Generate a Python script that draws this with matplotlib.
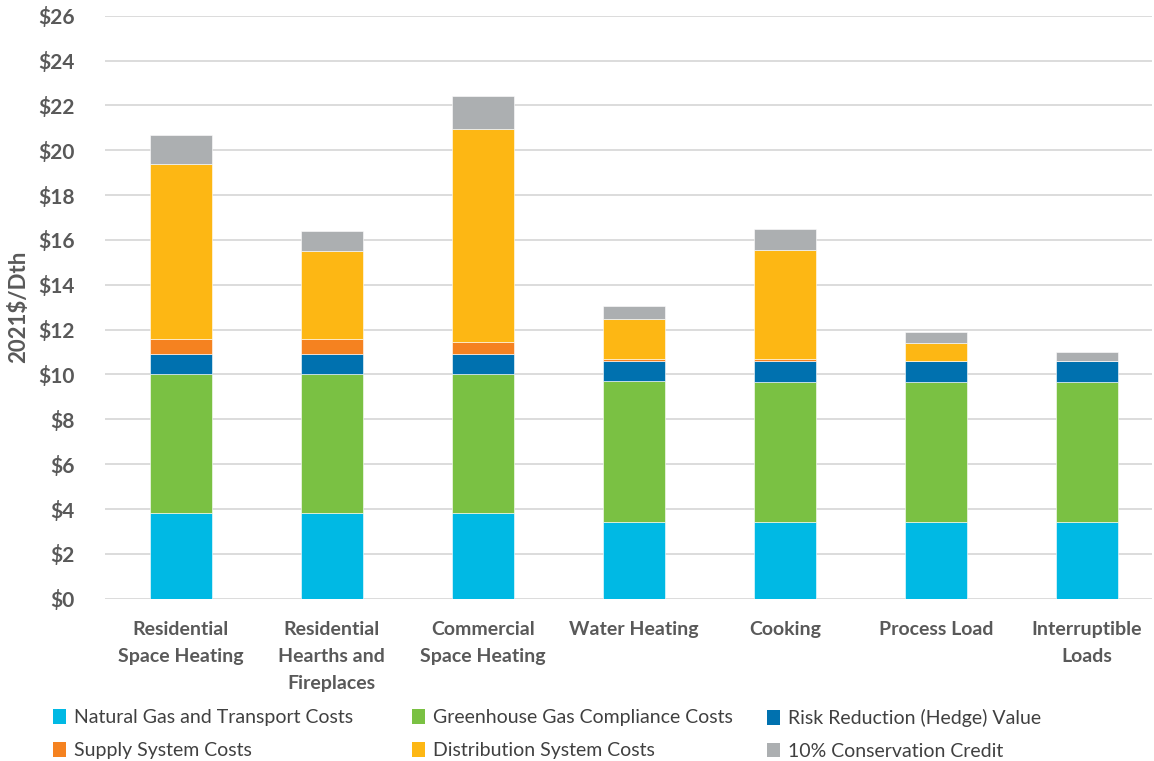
import matplotlib
matplotlib.use("Agg")
import matplotlib.pyplot as plt
from matplotlib.patches import Patch
import numpy as np

categories = ["Residential\nSpace Heating", "Residential\nHearths and\nFireplaces",
              "Commercial\nSpace Heating", "Water Heating", "Cooking",
              "Process Load", "Interruptible\nLoads"]
series_names = ["Natural Gas and Transport Costs", "Greenhouse Gas Compliance Costs",
                "Risk Reduction (Hedge) Value", "Supply System Costs",
                "Distribution System Costs", "10% Conservation Credit"]
natural_gas = [3.80, 3.80, 3.80, 3.44, 3.44, 3.44, 3.44]
ghg = [6.20, 6.20, 6.20, 6.26, 6.22, 6.22, 6.22]
risk = [0.93, 0.93, 0.93, 0.88, 0.92, 0.92, 0.92]
supply = [0.63, 0.63, 0.54, 0.12, 0.12, 0.03, 0.0]
distribution = [7.81, 3.93, 9.49, 1.76, 4.85, 0.81, 0.0]
conservation = [1.33, 0.90, 1.45, 0.59, 0.92, 0.48, 0.42]
yticks = list(range(0, 27, 2))

colors = ["#00B9E4", "#7AC143", "#0071AF", "#F58220", "#FDB714", "#ACAFB1"]
series = [natural_gas, ghg, risk, supply, distribution, conservation]

plt.rcParams['font.family'] = ['Lato', 'DejaVu Sans']
fig = plt.figure(figsize=(11.54, 7.61), dpi=100)
W, H = 1154, 761
left, right = 105 / W, 1152 / W
bottom, top = (H - 598.7) / H, (H - 15.7) / H
ax = fig.add_axes([left, bottom, right - left, top - bottom])

x = np.arange(len(categories))
base = np.zeros(len(categories))
for vals, c, name in zip(series, colors, series_names):
    v = np.array(vals)
    ax.bar(x, v, bottom=base, width=0.41, color=c, label=name,
           edgecolor="white", linewidth=0.4, zorder=3)
    base += v

ax.set_ylim(0, 26)
ax.set_xlim(-0.5, 6.43)
ax.set_yticks(yticks)
ax.set_yticklabels([f"${t}" for t in yticks], fontsize=15, fontweight="bold", color="#595959")
ax.set_xticks(x)
ax.set_xticklabels(categories, fontsize=14, fontweight="bold", color="#595959",
                   linespacing=1.7, va="top")
ax.tick_params(axis="both", length=0)
ax.tick_params(axis="x", pad=16)
ax.tick_params(axis="y", pad=22)
ax.grid(axis="y", color="#D9D9D9", linewidth=1.3, zorder=0)
for s in ax.spines.values():
    s.set_visible(False)
ax.set_ylabel("2021$/Dth", fontsize=16, fontweight="bold", color="#595959", labelpad=6)

handles = [Patch(facecolor=c) for c in colors]
col_x = [53, 412, 767]
for i, cx in enumerate(col_x):
    hs = [handles[i], handles[i + 3]]
    ls = [series_names[i], series_names[i + 3]]
    fig.legend(hs, ls, loc="upper left", bbox_to_anchor=(cx / W, 1 - 709 / H),
               frameon=False, fontsize=14, handlelength=0.65, handleheight=0.8,
               handletextpad=0.45, labelspacing=0.8, borderaxespad=0, borderpad=0,
               labelcolor="#404040")

fig.savefig("out.png", dpi=100, facecolor="white")
